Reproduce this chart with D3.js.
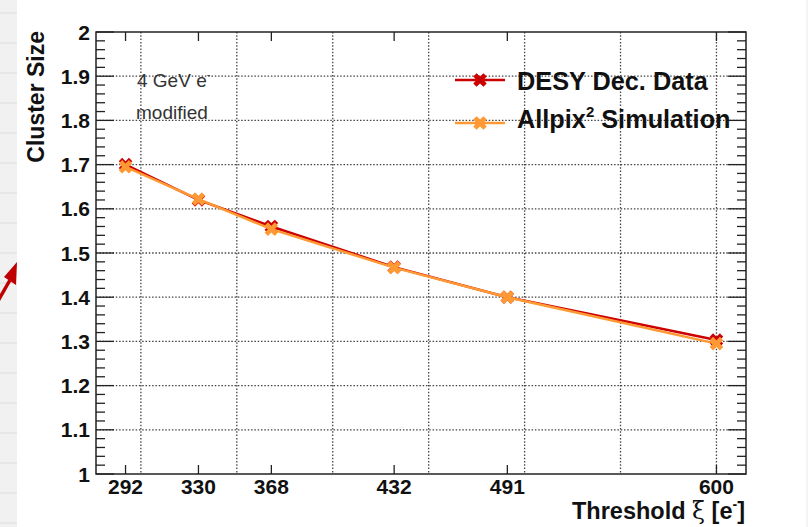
<!DOCTYPE html>
<html><head><meta charset="utf-8">
<script src="https://cdn.jsdelivr.net/npm/d3@7"></script>
<style>html,body{margin:0;padding:0;background:#fff;} svg{display:block;}</style>
</head><body>
<svg id="c" width="808" height="527"></svg>
<script>
const thresholds = [292, 330, 368, 432, 491, 600];
const desyValues = [1.700, 1.620, 1.560, 1.468, 1.400, 1.303];
const allpixValues = [1.695, 1.622, 1.554, 1.467, 1.400, 1.295];
const seriesNames = ["DESY Dec. Data", "Allpix\u00B2 Simulation"];
const yTickLabels = ["1", "1.1", "1.2", "1.3", "1.4", "1.5", "1.6", "1.7", "1.8", "1.9", "2"];
const xGridValues = [300, 350, 400, 450, 500, 550, 600];

const svg = d3.select("#c");
const W = 808, H = 527;
const m = {left: 96, right: 746, top: 32, bottom: 474};
const font = "'Liberation Sans', Arial, Helvetica, sans-serif";
const red = "#cc0000", orange = "#ff9933";

// slide background remnants
svg.append("rect").attr("x", 0).attr("y", 0).attr("width", 17).attr("height", H).attr("fill", "#f1f1f1");
for (let yy = 12; yy < H; yy += 30) {
  svg.append("rect").attr("x", 0).attr("y", yy).attr("width", 17).attr("height", 2).attr("fill", "#e7e7e7");
}
svg.append("rect").attr("x", 806).attr("y", 0).attr("width", 2).attr("height", H).attr("fill", "#f4f4f4");
// red arrow
svg.append("line").attr("x1", -2).attr("y1", 301).attr("x2", 10).attr("y2", 280)
  .attr("stroke", "#c00000").attr("stroke-width", 3.5);
svg.append("path").attr("d", "M17,262 L16,285 L4,277 Z").attr("fill", "#c00000");

const x = d3.scaleLinear().domain([276.6, 615.4]).range([m.left, m.right]);
const y = d3.scaleLinear().domain([1, 2]).range([m.bottom, m.top]);

// grid
const g = svg.append("g");
g.selectAll("line.vg").data(xGridValues).enter().append("line")
  .attr("x1", d => x(d)).attr("x2", d => x(d)).attr("y1", m.top).attr("y2", m.bottom)
  .attr("stroke", "#444").attr("stroke-width", 1.3).attr("stroke-dasharray", "1.5,1.8");
const yGridVals = yTickLabels.map(Number).filter(v => v > 1 && v < 2);
g.selectAll("line.hg").data(yGridVals).enter().append("line")
  .attr("y1", d => y(d)).attr("y2", d => y(d)).attr("x1", m.left).attr("x2", m.right)
  .attr("stroke", "#444").attr("stroke-width", 1.3).attr("stroke-dasharray", "1.5,1.8");

// frame
svg.append("rect").attr("x", m.left).attr("y", m.top).attr("width", m.right - m.left).attr("height", m.bottom - m.top)
  .attr("fill", "none").attr("stroke", "#222").attr("stroke-width", 1.5);

// y axis ticks (left + right, inward)
const minor = d3.range(0, 51).map(i => 1 + i * 0.02);
minor.forEach((v, i) => {
  const len = (i % 5 === 0) ? 18 : 9;
  svg.append("line").attr("x1", m.left).attr("x2", m.left + len).attr("y1", y(v)).attr("y2", y(v))
    .attr("stroke", "#222").attr("stroke-width", 1.3);
  svg.append("line").attr("x1", m.right).attr("x2", m.right - len).attr("y1", y(v)).attr("y2", y(v))
    .attr("stroke", "#222").attr("stroke-width", 1.3);
});
svg.selectAll("text.yl").data(yTickLabels).enter().append("text")
  .attr("x", 90).attr("y", d => y(+d)).attr("dy", "0.36em")
  .attr("text-anchor", "end").attr("font-family", font).attr("font-weight", "bold")
  .attr("font-size", 21).attr("fill", "#111").text(d => d);

// x axis ticks at data thresholds
thresholds.forEach(t => {
  svg.append("line").attr("x1", x(t)).attr("x2", x(t)).attr("y1", m.bottom).attr("y2", m.bottom - 9)
    .attr("stroke", "#222").attr("stroke-width", 1.3);
  svg.append("line").attr("x1", x(t)).attr("x2", x(t)).attr("y1", m.top).attr("y2", m.top + 9)
    .attr("stroke", "#222").attr("stroke-width", 1.3);
});
svg.selectAll("text.xl").data(thresholds).enter().append("text")
  .attr("x", d => x(d)).attr("y", 494).attr("text-anchor", "middle")
  .attr("font-family", font).attr("font-weight", "bold").attr("font-size", 21).attr("fill", "#111")
  .text(d => d);

// axis titles
const xt = svg.append("text").attr("x", 745).attr("y", 519).attr("text-anchor", "end")
  .attr("font-family", font).attr("font-weight", "bold").attr("font-size", 23.5).attr("fill", "#111");
xt.append("tspan").text("Threshold ");
xt.append("tspan").attr("font-weight", "normal").attr("font-family", "'DejaVu Serif', serif").text("\u03BE");
xt.append("tspan").text(" [e");
xt.append("tspan").attr("font-size", 14).attr("dy", -10).text("-");
xt.append("tspan").attr("dy", 10).text("]");

svg.append("text").attr("transform", "translate(44,31) rotate(-90)")
  .attr("text-anchor", "end").attr("font-family", font).attr("font-weight", "bold")
  .attr("font-size", 23).attr("fill", "#111").text("Cluster Size");

// annotation
const a1 = svg.append("text").attr("x", 137).attr("y", 87).attr("font-family", font)
  .attr("font-size", 19).attr("fill", "#333");
a1.append("tspan").text("4 GeV e");
a1.append("tspan").attr("font-size", 11).attr("dy", -9).text("-");
svg.append("text").attr("x", 136).attr("y", 119).attr("font-family", font)
  .attr("font-size", 19).attr("fill", "#333").text("modified");

// series
const markerPath = d3.symbol().type(d3.symbolCross).size(115)();
const series = [
  {name: seriesNames[0], values: desyValues, color: red},
  {name: seriesNames[1], values: allpixValues, color: orange}
];
const line = d3.line().x((d, i) => x(thresholds[i])).y(d => y(d));
series.forEach(s => {
  svg.append("path").datum(s.values).attr("d", line).attr("fill", "none")
    .attr("stroke", s.color).attr("stroke-width", 2.5);
  svg.selectAll(null).data(s.values).enter().append("path")
    .attr("d", markerPath)
    .attr("transform", (d, i) => `translate(${x(thresholds[i])},${y(d)}) rotate(45)`)
    .attr("fill", s.color);
});

// legend
const legY = [80, 123];
series.forEach((s, i) => {
  svg.append("line").attr("x1", 455).attr("x2", 505).attr("y1", legY[i]).attr("y2", legY[i])
    .attr("stroke", s.color).attr("stroke-width", 2.5);
  svg.append("path").attr("d", markerPath).attr("transform", `translate(480,${legY[i]}) rotate(45)`)
    .attr("fill", s.color);
});
svg.append("text").attr("x", 517).attr("y", 90).attr("font-family", font).attr("font-weight", "bold")
  .attr("font-size", 25.3).attr("fill", "#111").text(seriesNames[0]);
const l2 = svg.append("text").attr("x", 517).attr("y", 128).attr("font-family", font).attr("font-weight", "bold")
  .attr("font-size", 25.3).attr("fill", "#111");
l2.append("tspan").text("Allpix");
l2.append("tspan").attr("font-size", 15).attr("dy", -11).text("2");
l2.append("tspan").attr("dy", 11).text(" Simulation");
</script>
</body></html>
